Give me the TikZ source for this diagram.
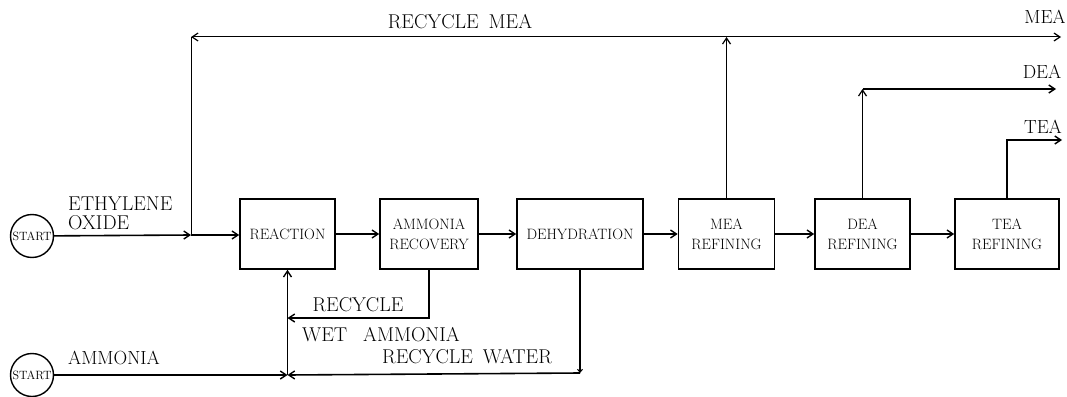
\documentclass[tikz,border=0pt]{standalone}
\usetikzlibrary{arrows.meta}
\begin{document}
\begin{tikzpicture}[x=1pt,y=-1pt,
  box/.style={draw,line width=1.6pt,minimum height=70pt,inner sep=0pt,align=center,
     font=\fontsize{15}{20}\selectfont},
  startc/.style={draw,circle,line width=1.4pt,minimum size=43pt,inner sep=0pt,
     font=\fontsize{12}{12}\selectfont},
  lbl/.style={inner sep=0pt,font=\fontsize{20}{20}\selectfont},
  slbl/.style={inner sep=0pt,font=\fontsize{19}{20}\selectfont},
  flow/.style={line width=1.6pt,-{Straight Barb[length=6pt,width=8pt,line width=1.4pt]}},
  thin/.style={line width=1pt,-{Straight Barb[length=6pt,width=8pt,line width=1.2pt]}},
  plainthin/.style={line width=1pt}]
\useasboundingbox (0,0) rectangle (1067,396);

% start circles
\node[startc] (s1) at (32,236) {START};
\node[startc] (s2) at (32,375) {START};

% process boxes
\node[box,minimum width=95pt] (reac) at (287.5,234) {REACTION};
\node[box,minimum width=98pt] (ammr) at (429,234) {AMMONIA\\RECOVERY};
\node[box,minimum width=126pt] (dehy) at (580,234) {DEHYDRATION};
\node[box,minimum width=96pt] (mear) at (726.5,234) {MEA\\REFINING};
\node[box,minimum width=95pt] (dear) at (862.5,234) {DEA\\REFINING};
\node[box,minimum width=104pt] (tear) at (1007,234) {TEA\\REFINING};

% coordinates
\coordinate (j1) at (191,235);
\coordinate (tl) at (191,37);
\coordinate (mtop) at (726.5,37);
\coordinate (meaend) at (1061,37);
\coordinate (dtop) at (862.5,89);
\coordinate (deaend) at (1056,89);
\coordinate (teaend) at (1062,140);
\coordinate (j3) at (287.5,375);
\coordinate (rwet) at (287.5,318);
\coordinate (cw) at (580,373);

% main flow
\draw[flow] (s1) -- (j1);
\draw[flow] (j1) -- (reac.west |- j1);
\draw[flow] (reac) -- (ammr);
\draw[flow] (ammr) -- (dehy);
\draw[flow] (dehy) -- (mear);
\draw[flow] (mear) -- (dear);
\draw[flow] (dear) -- (tear);

% products and recycle MEA
\draw[thin] (mear.north) -- (mtop);
\draw[thin] (mtop) -- (meaend);
\draw[thin] (mtop) -- (tl);
\draw[plainthin] (tl) -- (j1);
\draw[thin] (dear.north) -- (dtop);
\draw[flow] (dtop) -- (deaend);
\draw[flow] (tear.north) |- (teaend);

% ammonia feed and recycles
\draw[flow] (s2) -- (j3);
\draw[flow] (j3) -- (reac.south);
\draw[flow] (ammr.south) |- (rwet);
\draw[line width=1.2pt,-{Straight Barb[length=3pt,width=5pt,line width=1pt]}] (dehy.south) -- (cw);
\draw[flow] (cw) -- (j3);

% labels
\node[lbl,anchor=west] (leth) at (68,204) {ETHYLENE};
\node[lbl,anchor=west] (loxi) at (68,223) {OXIDE};
\node[lbl,font=\fontsize{19}{20}\selectfont] (lamm) at (114,358) {AMMONIA};
\node[lbl] (lrmea) at (460,22) {RECYCLE\hspace{0.5em}MEA};
\node[slbl] (lmea) at (1045,17) {MEA};
\node[slbl] (ldea) at (1042,72) {DEA};
\node[slbl] (ltea) at (1043,127) {TEA};
\node[lbl] (lrec) at (358,305) {RECYCLE};
\node[lbl,anchor=west] (lwet) at (302,335) {WET\hspace{0.8em}AMMONIA};
\node[lbl] (lrw) at (467,357) {RECYCLE\hspace{0.5em}WATER};
\end{tikzpicture}
\end{document}
